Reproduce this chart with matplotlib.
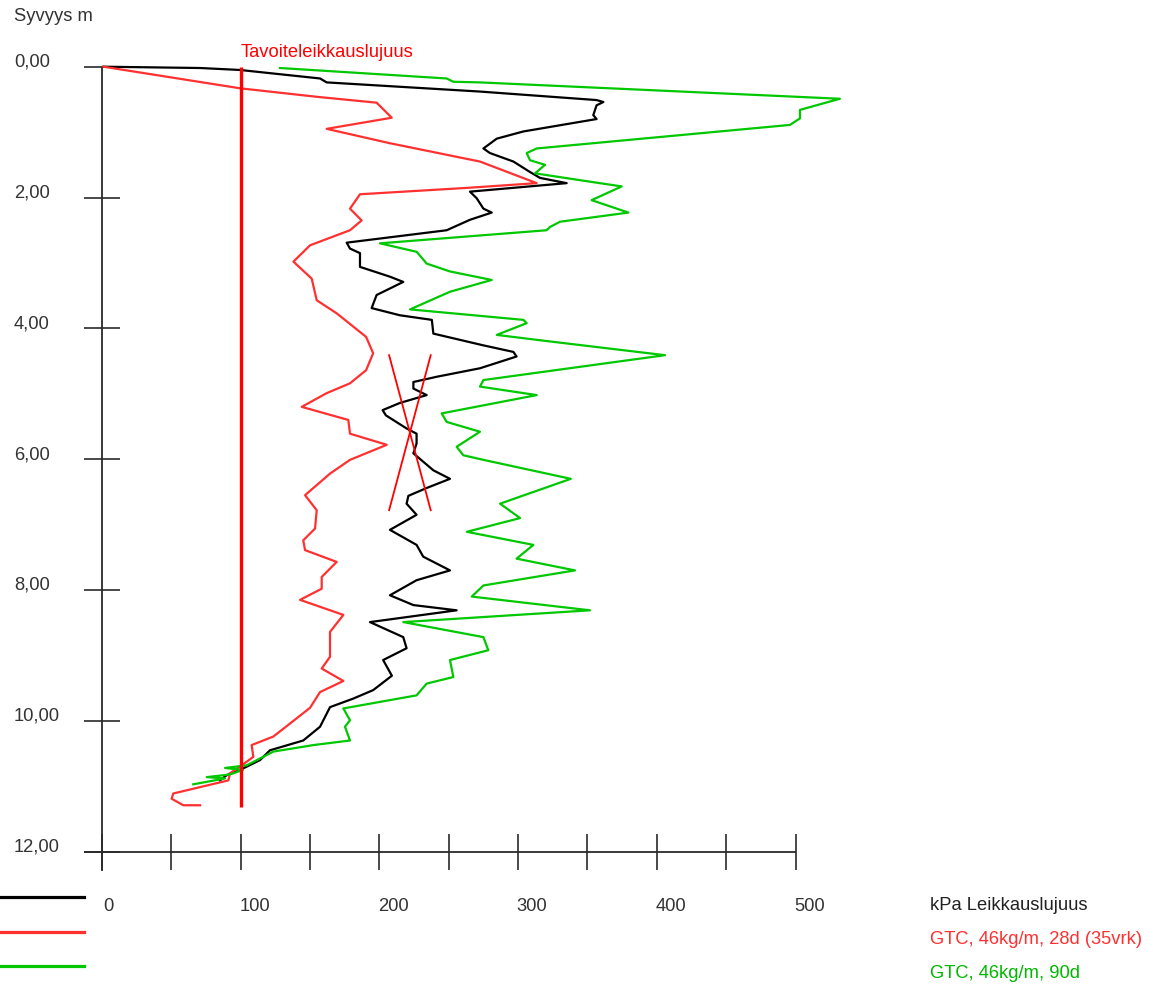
import matplotlib
matplotlib.use("Agg")
import matplotlib.pyplot as plt
from matplotlib.lines import Line2D

# ---- data: shear strength (kPa) against depth (m) ----
black_kpa = [1, 70.7, 99.5, 157.2, 162, 272.5, 356.6, 361.5, 356.6, 354.2, 356.6, 303.8, 284.6, 275,
             279.7, 296.6, 308.6, 315.8, 335, 265.3, 270.1, 275, 281, 265.3, 248.5, 176.4, 178.8, 186,
             186, 207.6, 217.2, 198, 194.4, 214.8, 237.8, 238.9, 275, 296.6, 298.9, 272.5, 241.3, 224.5,
             224.5, 234.1, 214.8, 202.3, 204.7, 219.6, 226.8, 226.8, 224.5, 238.9, 250.9, 234.1, 220.9,
             219.6, 226.8, 207.6, 226.8, 231.6, 250.9, 226.8, 207.6, 224.5, 255.7, 193.2, 217.2, 219.6,
             202.7, 209, 195.5, 181.1, 164.4, 157.2, 145.1, 121.1, 113.9, 99.5, 89.9, 85.1]
black_depth = [0.00, 0.02, 0.05, 0.18, 0.24, 0.38, 0.51, 0.54, 0.59, 0.74, 0.80, 0.99, 1.10, 1.25,
               1.32, 1.45, 1.61, 1.70, 1.78, 1.91, 2.01, 2.17, 2.23, 2.34, 2.50, 2.69, 2.78, 2.85,
               3.06, 3.21, 3.29, 3.49, 3.69, 3.80, 3.87, 4.08, 4.26, 4.36, 4.43, 4.61, 4.74, 4.82,
               4.92, 5.02, 5.14, 5.25, 5.33, 5.53, 5.61, 5.76, 5.91, 6.17, 6.30, 6.44, 6.56,
               6.68, 6.85, 7.08, 7.31, 7.49, 7.70, 7.85, 8.08, 8.23, 8.31, 8.49, 8.72, 8.89,
               9.07, 9.31, 9.53, 9.66, 9.79, 10.09, 10.30, 10.45, 10.60, 10.75, 10.83, 10.91]

red_kpa = [1, 99.5, 154.8, 198, 208.9, 162, 207.6, 272.5, 313.4, 265, 186, 178.8, 187.2, 178.8, 150,
           138, 151.2, 154.8, 169.2, 190.4, 195.5, 190.4, 178.8, 162, 144, 177.6, 178.8, 205.3, 178.8,
           164.4, 146.4, 154.8, 153.6, 145.1, 146.4, 169.2, 158.4, 158.4, 142.8, 174, 164.4, 164.4,
           158.4, 174, 157.2, 150, 140.4, 123.5, 107.9, 109.1, 99.5, 92.3, 91.1, 51.4, 50.2, 58.6, 70.7]
red_depth = [0.00, 0.33, 0.46, 0.55, 0.78, 0.95, 1.17, 1.45, 1.78, 1.85, 1.95, 2.17, 2.35, 2.50, 2.73,
             2.98, 3.24, 3.57, 3.77, 4.13, 4.38, 4.64, 4.84, 4.99, 5.20, 5.40, 5.61, 5.78, 6.01,
             6.22, 6.55, 6.78, 7.06, 7.24, 7.39, 7.57, 7.80, 7.98, 8.15, 8.38, 8.64, 9.02,
             9.20, 9.39, 9.56, 9.80, 9.96, 10.24, 10.37, 10.55, 10.70, 10.80, 10.91, 11.11, 11.19, 11.29, 11.29]

green_kpa = [128.3, 248.5, 253.3, 272.5, 532, 503.2, 503.2, 496, 313.4, 306.2, 308.6, 319.4, 312.2, 349.4,
             374.7, 353, 379.5, 330.2, 323, 320.6, 200.4, 226.9, 234.1, 250.9, 281, 250.9, 222.1, 303.8,
             306.2, 284.6, 323, 405.9, 275, 272.5, 313.4, 244.9, 248.5, 272.5, 255.7, 260.5, 275, 338,
             287, 301.4, 263, 311, 298.9, 341, 275, 266.6, 351.8, 217.2, 275, 278.5, 250.9, 253.3, 234.1,
             226.8, 174, 178.8, 175.2, 178.8, 152.4, 123.5, 104.3, 88.7, 101.7, 92, 75.5, 88.7, 65.8]
green_depth = [0.02, 0.18, 0.23, 0.24, 0.49, 0.66, 0.79, 0.89, 1.25, 1.32, 1.43, 1.50, 1.63, 1.75,
               1.83, 2.04, 2.23, 2.37, 2.45, 2.50, 2.70, 2.83, 3.01, 3.13, 3.26, 3.44, 3.71, 3.87,
               3.92, 4.10, 4.20, 4.41, 4.79, 4.89, 5.02, 5.30, 5.43, 5.58, 5.81, 5.94, 6.01, 6.30,
               6.68, 6.90, 7.11, 7.31, 7.52, 7.70, 7.93, 8.10, 8.31, 8.49, 8.72, 8.92, 9.07, 9.33, 9.43,
               9.61, 9.81, 9.99, 10.09, 10.30, 10.37, 10.47, 10.68, 10.72, 10.75, 10.82, 10.86, 10.88, 10.97]

target_kpa = 100
target_depth = [0.0, 11.31]
target_label = "Tavoiteleikkauslujuus"

depth_ticks = [0, 2, 4, 6, 8, 10, 12]
depth_labels = ["0,00", "2,00", "4,00", "6,00", "8,00", "10,00", "12,00"]
kpa_ticks = list(range(0, 501, 50))
kpa_labels = ["0", "100", "200", "300", "400", "500"]

legend_texts = ["kPa Leikkauslujuus", "GTC, 46kg/m, 28d (35vrk)", "GTC, 46kg/m, 90d"]

# cross marking drawn over the profiles
cross_kpa = [207, 237]
cross_depth = [4.41, 6.78]

# ---- styling ----
BLACK = "#000000"
RED = "#ff3030"
PURE_RED = "#ff0000"
GREEN = "#00c800"
AXIS = "#2a2a2a"
TEXT = "#333333"
FONT = "Liberation Sans"
FS = 13.2

W, H = 1153, 985
fig = plt.figure(figsize=(W / 100, H / 100), dpi=100)

x0_px, x1_px = 102.0, 795.5
y0_px, y1_px = 66.7, 851.7


def fx(px):
    return px / W


def fy(py):
    return 1 - py / H


ax = fig.add_axes([fx(x0_px), fy(y1_px), fx(x1_px) - fx(x0_px), fy(y0_px) - fy(y1_px)])
ax.set_xlim(0, 500)
ax.set_ylim(12, 0)
ax.patch.set_alpha(0)
for s in ax.spines.values():
    s.set_visible(False)

# axis lines with crossing ticks
ax.plot([0, 0], [0, 12.3], color=AXIS, lw=1.3, clip_on=False, solid_capstyle="butt")
ax.plot([-13, 500], [12, 12], color=AXIS, lw=1.3, clip_on=False, solid_capstyle="butt")
ax.set_xticks(kpa_ticks)
ax.set_yticks(depth_ticks)
ax.tick_params(axis="both", direction="inout", length=26, width=1.2, color=AXIS,
               labelbottom=False, labelleft=False)

# profiles
ax.plot(black_kpa, black_depth, color=BLACK, lw=1.6, clip_on=False)
ax.plot(red_kpa, red_depth, color=RED, lw=1.6, clip_on=False)
ax.plot(green_kpa, green_depth, color=GREEN, lw=1.6, clip_on=False)

# target strength line
ax.plot([target_kpa, target_kpa], target_depth, color=PURE_RED, lw=2.4, solid_capstyle="butt")
ax.text(target_kpa, -0.22, target_label, color=PURE_RED, fontsize=FS, family=FONT,
        ha="left", va="center")

# cross
ax.plot(cross_kpa, cross_depth, color=PURE_RED, lw=1.3)
ax.plot(cross_kpa[::-1], cross_depth, color=PURE_RED, lw=1.3)

# depth labels
ax.text(-88 / 1.387, -0.77, "Syvyys m", color=TEXT, fontsize=FS, family=FONT, ha="left", va="center")
for d, lab in zip(depth_ticks, depth_labels):
    ax.text(-88 / 1.387, d - 0.07, lab, color=TEXT, fontsize=FS, family=FONT, ha="left", va="center")

# kPa labels
for v, lab in zip(range(0, 501, 100), kpa_labels):
    ax.text(v - 1.5 / 1.387 + (2 if v == 0 else 0), 12.84, lab, color=TEXT, fontsize=FS,
            family=FONT, ha="left", va="center", clip_on=False)

# legend swatches and texts
for ypx, col in zip([897, 932, 966], [BLACK, RED, GREEN]):
    fig.add_artist(Line2D([0, fx(84)], [fy(ypx), fy(ypx)], color=col, lw=2.3,
                          transform=fig.transFigure))
for ypx, col, txt in zip([905, 940, 973], ["#222222", RED, "#00b800"], legend_texts):
    fig.text(fx(930), fy(ypx), txt, color=col, fontsize=FS, family=FONT, ha="left", va="center")

fig.savefig("out.png", dpi=100, facecolor="white")
